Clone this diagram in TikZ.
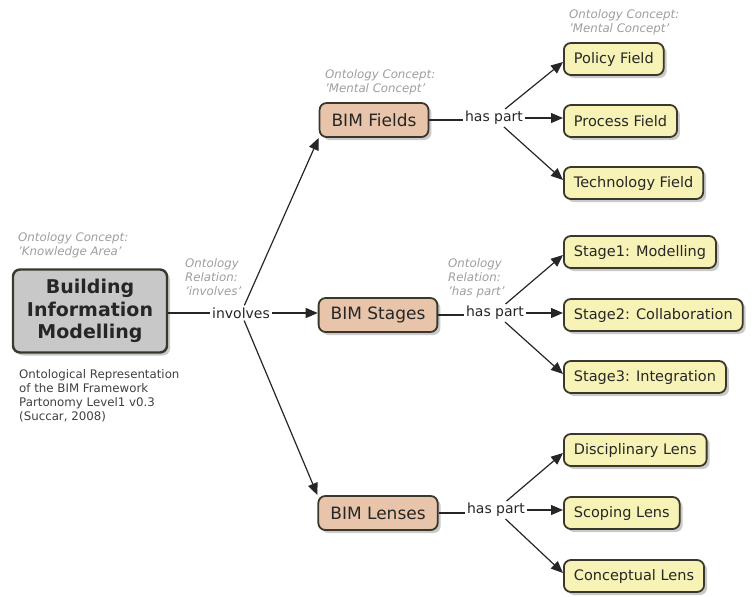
\documentclass[tikz,border=0pt]{standalone}
\usepackage{fontspec}
\setmainfont{DejaVu Sans}
\usetikzlibrary{arrows.meta,shadows}
\definecolor{boxline}{RGB}{58,56,44}
\definecolor{tanfill}{RGB}{232,197,170}
\definecolor{yelfill}{RGB}{247,243,182}
\definecolor{greyfill}{RGB}{200,200,200}
\definecolor{notegrey}{RGB}{158,158,158}
\definecolor{desctext}{RGB}{64,64,64}
\begin{document}
\begin{tikzpicture}[x=1pt,y=-1pt]
\tikzstyle{every node}+=[text=black!85]
\tikzstyle{box}=[draw=boxline, line width=1.8pt, rounded corners=7pt, minimum height=32pt, inner xsep=10pt, drop shadow={shadow xshift=3pt,shadow yshift=-3pt,opacity=0.35,fill=black!60}]
\tikzstyle{concept}=[box, fill=tanfill, minimum height=34pt, inner xsep=12pt, font=\fontsize{17}{20}\selectfont]
\tikzstyle{part}=[box, fill=yelfill, anchor=west, font=\fontsize{14.5}{17}\selectfont]
\tikzstyle{note}=[anchor=north west, align=left, inner sep=0pt, text=notegrey, font=\fontsize{11.8}{14}\selectfont\itshape]
\tikzstyle{rel}=[inner sep=2pt, font=\fontsize{14}{16}\selectfont]
\tikzstyle{arr}=[line width=1.2pt, draw=black!85, -{Triangle[length=12pt,width=10pt]}]
\tikzstyle{link}=[line width=1.2pt, draw=black!85]
\useasboundingbox (0,0) rectangle (753,597);
\node[box, fill=greyfill, line width=2.4pt, minimum width=154pt, minimum height=83pt, align=center, font=\fontsize{19}{22.5}\selectfont\bfseries] (bim) at (90,311) {Building\\Information\\Modelling};
\node[note] (kanote) at (18,232) {Ontology Concept:\\'Knowledge Area'};
\node[note] (invnote) at (185,258) {Ontology\\Relation:\\'involves'};
\node[note] (fnote) at (325,69) {Ontology Concept:\\'Mental Concept'};
\node[note] (pnote) at (569,9) {Ontology Concept:\\'Mental Concept'};
\node[note] (hpnote) at (448,258) {Ontology\\Relation:\\'has part'};
\node[anchor=north west, align=left, inner sep=0pt, text=desctext, font=\fontsize{11.8}{14}\selectfont] (desc) at (19,369) {Ontological Representation\\of the BIM Framework\\Partonomy Level1 v0.3\\(Succar, 2008)};
\node[rel] (inv) at (241,313) {involves};
\node[concept] (fields) at (374,120) {BIM Fields};
\node[concept] (stages) at (378,315) {BIM Stages};
\node[concept] (lenses) at (378,513) {BIM Lenses};
\node[rel] (hpf) at (494,118) {has part};
\node[rel] (hps) at (495,313) {has part};
\node[rel] (hpl) at (496,510) {has part};
\node[part] (policy) at (563,59) {Policy Field};
\node[part] (process) at (563,121) {Process Field};
\node[part] (tech) at (563,183) {Technology Field};
\node[part] (st1) at (563,252) {Stage1: Modelling};
\node[part] (st2) at (563,315) {Stage2: Collaboration};
\node[part] (st3) at (563,377) {Stage3: Integration};
\node[part] (disc) at (563,450) {Disciplinary Lens};
\node[part] (scope) at (563,513) {Scoping Lens};
\node[part] (concl) at (563,576) {Conceptual Lens};
\draw[link] (bim.east |- inv.west) -- (inv.west);
\draw[arr] (inv.east) -- (inv.east -| stages.west);
\draw[arr] (inv) -- (fields.south west);
\draw[arr] (inv) -- (lenses.north west);
\draw[link] (fields.east) -- (fields.east -| hpf.west);
\draw[arr] (hpf) -- ([yshift=-3pt]policy.west);
\draw[arr] (hpf.east) -- (hpf.east -| process.west);
\draw[arr] (hpf) -- ([yshift=3pt]tech.west);
\draw[link] (stages.east) -- (stages.east -| hps.west);
\draw[arr] (hps) -- ([yshift=-3pt]st1.west);
\draw[arr] (hps.east) -- (hps.east -| st2.west);
\draw[arr] (hps) -- ([yshift=3pt]st3.west);
\draw[link] (lenses.east) -- (lenses.east -| hpl.west);
\draw[arr] (hpl) -- ([yshift=-3pt]disc.west);
\draw[arr] (hpl.east) -- (hpl.east -| scope.west);
\draw[arr] (hpl) -- ([yshift=3pt]concl.west);
\end{tikzpicture}
\end{document}
